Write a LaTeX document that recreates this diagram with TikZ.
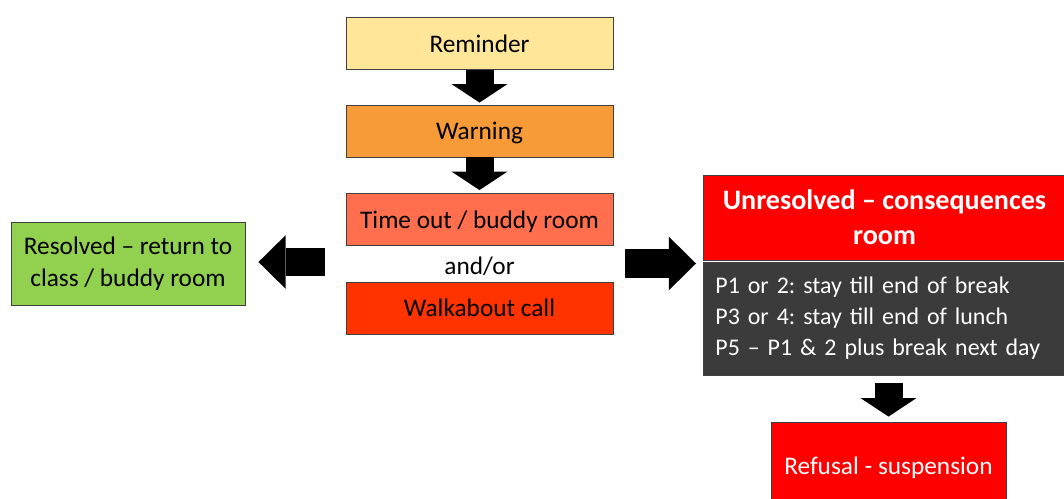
\documentclass[tikz,border=0pt]{standalone}
\usepackage{fontspec}
\setmainfont{Carlito}
\usepackage{tikz}
\usetikzlibrary{positioning, arrows.meta}
\frenchspacing

\definecolor{remindfill}{RGB}{255,230,153}
\definecolor{warnfill}{RGB}{247,154,56}
\definecolor{toutfill}{RGB}{255,110,77}
\definecolor{walkfill}{RGB}{255,51,0}
\definecolor{resfill}{RGB}{146,208,80}
\definecolor{redfill}{RGB}{255,0,0}
\definecolor{darkfill}{RGB}{59,59,59}
\definecolor{edgegrey}{RGB}{64,64,64}

\begin{document}
\begin{tikzpicture}[x=0.025cm,y=-0.025cm,
        box/.style={rectangle,draw=edgegrey,line width=0.6pt,inner sep=0pt,align=center,
                    font=\fontsize{18}{22.5}\selectfont},
        stepbox/.style={box,minimum width=6.675cm,minimum height=1.3cm,text height=0.55cm,text depth=0.115cm},
        downarrow/.style={draw=black,line width=0.7cm,-{Triangle[length=0.46cm,width=1.39cm,line width=0pt]}},
        sidearrow/.style={draw=black,line width=0.7cm,-{Triangle[length=0.68cm,width=1.34cm,line width=0pt]}}]

        \useasboundingbox (0,0) rectangle (1064,499);

        \node[stepbox,fill=remindfill] (rem)  at (479.5,43.5) {Reminder};
        \node[stepbox,fill=warnfill]   (warn) at (479.5,131)  {Warning};
        \node[stepbox,fill=toutfill]   (tout) at (479.5,219.5) {Time out / buddy room};
        \node[font=\fontsize{18}{22.5}\selectfont] (andor) at (479.5,266) {and/or};
        \node[stepbox,fill=walkfill]   (walk) at (479.5,308)  {Walkabout call};

        \node[box,fill=resfill,minimum width=5.85cm,minimum height=2.075cm] (res) at (128,263.5)
            {Resolved -- return to\\class / buddy room};

        \node[box,fill=redfill,text=white,minimum width=9.075cm,minimum height=2.125cm,
              font=\bfseries\fontsize{20}{25}\selectfont] (unres) at (884.5,217.5)
            {Unresolved -- consequences\\room};
        \node[box,fill=darkfill,text=white,anchor=west,align=left,text width=10cm,inner xsep=0.3cm,
              minimum height=2.825cm,font=\fontsize{17}{22}\selectfont] (cons) at (703,318.5)
            {P1 or 2: stay till end of break\\P3 or 4: stay till end of lunch\\P5 -- P1 \& 2 plus break next day};
        \node[box,fill=redfill,text=white,minimum width=5.875cm,minimum height=2.2cm,
              text height=0.55cm,text depth=0.115cm] (refusal) at (888.5,466)
            {Refusal - suspension};

        \coordinate (midL) at (325,262);
        \coordinate (midR) at (625,263.5);

        \path (rem)  edge [downarrow, shorten >=0.05cm] (warn)
              (warn) edge [downarrow, shorten >=0.075cm] (tout)
              (midL) edge [sidearrow, shorten >=0.325cm] (midL -| res.east)
              (midR) edge [sidearrow, shorten >=0.175cm] (midR -| cons.west)
              (refusal.north |- cons.south) edge [downarrow, shorten <=0.2cm, shorten >=0.125cm] (refusal.north);
\end{tikzpicture}
\end{document}
